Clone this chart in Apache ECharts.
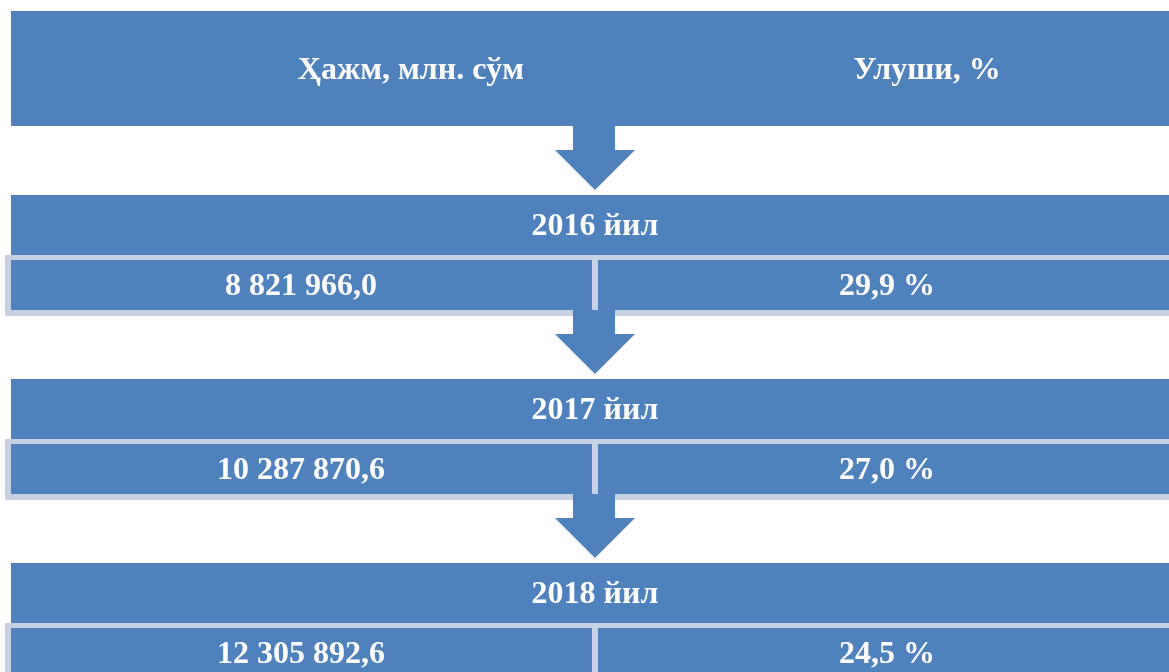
<!DOCTYPE html>
<html>
<head>
<meta charset="utf-8">
<script src="https://cdn.jsdelivr.net/npm/echarts@6/dist/echarts.min.js"></script>
<style>
html,body{margin:0;padding:0;background:#fff;}
#chart{width:1169px;height:672px;}
</style>
</head>
<body>
<div id="chart"></div>
<script>
// ---- data ----
var headers = ['Ҳажм, млн. сўм', 'Улуши, %'];
var years = ['2016 йил', '2017 йил', '2018 йил'];
var volumes = ['8 821 966,0', '10 287 870,6', '12 305 892,6'];
var shares = ['29,9 %', '27,0 %', '24,5 %'];

// ---- style ----
var BLUE = '#4f81bd';
var FRAME = '#c7d1e4';
var FONT = 'bold 32px "Liberation Serif", "Times New Roman", serif';
var ROW0 = 195, STEP = 184;

var chart = echarts.init(document.getElementById('chart'));

function rectShape(api, x1, y1, x2, y2) {
  var p1 = api.coord([x1, y1]), p2 = api.coord([x2, y2]);
  return {x: Math.min(p1[0], p2[0]), y: Math.min(p1[1], p2[1]),
          width: Math.abs(p2[0] - p1[0]), height: Math.abs(p2[1] - p1[1])};
}
function txt(api, x, y, s) {
  var p = api.coord([x, y]);
  return {type: 'text', x: p[0], y: p[1],
          style: {text: s, fill: '#fff', font: FONT, align: 'center', verticalAlign: 'middle'}};
}

var option = {
  animation: false,
  grid: {left: 0, right: 0, top: 0, bottom: 0},
  xAxis: {type: 'value', min: 0, max: 1169, show: false},
  yAxis: {type: 'value', min: 0, max: 672, inverse: true, show: false},
  series: [
    {
      type: 'custom',
      data: [[0]],
      renderItem: function (params, api) {
        return {type: 'group', children: [
          {type: 'rect', shape: rectShape(api, 11, 11, 1175, 126), style: {fill: BLUE}},
          txt(api, 411, 71, headers[0]),
          txt(api, 927, 71, headers[1])
        ]};
      }
    },
    {
      type: 'custom',
      data: years.map(function (y, i) { return [i]; }),
      renderItem: function (params, api) {
        var i = api.value(0);
        var top = ROW0 + STEP * i;
        var shaft = rectShape(api, 573, top - 69, 615, top - 44);
        var a = api.coord([555, top - 45]), b = api.coord([635, top - 45]), c = api.coord([595, top - 5]);
        return {type: 'group', children: [
          {type: 'rect', shape: rectShape(api, 11, top, 1175, top + 60), style: {fill: BLUE}},
          txt(api, 595, top + 32, years[i]),
          {type: 'rect', shape: rectShape(api, 5, top + 60, 1175, top + 121), style: {fill: FRAME}},
          {type: 'rect', shape: rectShape(api, 11, top + 65, 592, top + 115), style: {fill: BLUE}},
          {type: 'rect', shape: rectShape(api, 598, top + 65, 1175, top + 115), style: {fill: BLUE}},
          txt(api, 301, top + 92, volumes[i]),
          txt(api, 887, top + 92, shares[i]),
          {type: 'rect', shape: shaft, style: {fill: BLUE}},
          {type: 'polygon', shape: {points: [a, b, c]}, style: {fill: BLUE}}
        ]};
      }
    }
  ]
};
chart.setOption(option);
</script>
</body>
</html>
